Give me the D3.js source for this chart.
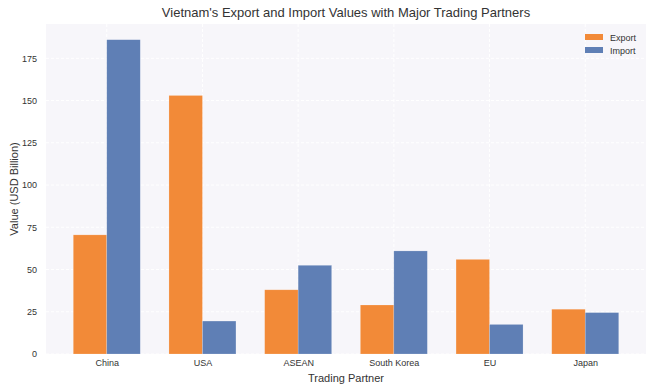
<!DOCTYPE html>
<html>
<head>
<meta charset="utf-8">
<script src="https://cdn.jsdelivr.net/npm/d3@7"></script>
<style>
  body { margin: 0; background: #fff; }
  svg { font-family: "Liberation Sans", Arial, sans-serif; }
</style>
</head>
<body>
<div id="chart"></div>
<script>
// data
var partners = ["China", "USA", "ASEAN", "South Korea", "EU", "Japan"];
var exportValues = [70.5, 153, 38, 29, 56, 26.5];
var importValues = [186, 19.5, 52.5, 61, 17.5, 24.5];
var yTicks = [0, 25, 50, 75, 100, 125, 150, 175];
var seriesNames = ["Export", "Import"];
var seriesColors = ["#f28a38", "#5f7fb5"];

var width = 655, height = 392;
var margin = {top: 24, right: 9, bottom: 38, left: 46};
var pw = width - margin.left - margin.right,
    ph = height - margin.top - margin.bottom;

var svg = d3.select("#chart").append("svg")
    .attr("width", width)
    .attr("height", height);

var g = svg.append("g")
    .attr("transform", "translate(" + margin.left + "," + margin.top + ")");

// x in category units, like matplotlib: bars span -0.35..n-1+0.35, plus 5% margin
var n = partners.length, bw = 0.35;
var lo = -bw, hi = n - 1 + bw, pad = (hi - lo) * 0.05;
var x = d3.scaleLinear().domain([lo - pad, hi + pad]).range([0, pw]);

var ymax = d3.max(exportValues.concat(importValues)) * 1.05;
var y = d3.scaleLinear().domain([0, ymax]).range([ph, 0]);

g.append("rect")
    .attr("width", pw).attr("height", ph)
    .attr("fill", "#f7f6fa");

// grid
g.append("g").selectAll("line").data(yTicks).enter().append("line")
    .attr("x1", 0).attr("x2", pw)
    .attr("y1", function(d) { return y(d); }).attr("y2", function(d) { return y(d); })
    .attr("stroke", "#ffffff").attr("stroke-width", 1)
    .attr("stroke-dasharray", "3,2");

g.append("g").selectAll("line").data(partners).enter().append("line")
    .attr("x1", function(d, i) { return x(i); }).attr("x2", function(d, i) { return x(i); })
    .attr("y1", 0).attr("y2", ph)
    .attr("stroke", "#ffffff").attr("stroke-width", 1)
    .attr("stroke-dasharray", "3,2");

// bars
var series = [exportValues, importValues];
series.forEach(function(vals, s) {
    g.append("g").selectAll("rect").data(vals).enter().append("rect")
        .attr("x", function(d, i) { return x(i + (s - 1) * bw); })
        .attr("width", x(bw) - x(0))
        .attr("y", function(d) { return y(d); })
        .attr("height", function(d) { return ph - y(d); })
        .attr("fill", seriesColors[s])
        .attr("stroke", "#ffffff").attr("stroke-opacity", 0.3).attr("stroke-width", 0.6);
});

// axes
var yAxis = d3.axisLeft(y).tickValues(yTicks).tickSize(0).tickPadding(9);
g.append("g").call(yAxis)
    .call(function(a) { a.select(".domain").remove(); })
    .selectAll("text").attr("font-size", 9).attr("fill", "#333")
    .attr("font-family", "Liberation Sans, Arial, sans-serif");

var xAxis = d3.axisBottom(x).tickValues(d3.range(n))
    .tickFormat(function(i) { return partners[i]; }).tickSize(0).tickPadding(6);
g.append("g").attr("transform", "translate(0," + ph + ")").call(xAxis)
    .call(function(a) { a.select(".domain").remove(); })
    .selectAll("text").attr("font-size", 9).attr("fill", "#333")
    .attr("font-family", "Liberation Sans, Arial, sans-serif");

// labels
svg.append("text")
    .attr("x", margin.left + pw / 2).attr("y", 17)
    .attr("text-anchor", "middle").attr("font-size", 13).attr("fill", "#333")
    .text("Vietnam's Export and Import Values with Major Trading Partners");

svg.append("text")
    .attr("x", margin.left + pw / 2).attr("y", 382)
    .attr("text-anchor", "middle").attr("font-size", 11).attr("fill", "#333")
    .text("Trading Partner");

svg.append("text")
    .attr("transform", "translate(18," + (margin.top + ph / 2) + ") rotate(-90)")
    .attr("text-anchor", "middle").attr("font-size", 11).attr("fill", "#333")
    .text("Value (USD Billion)");

// legend
var legend = g.append("g").attr("transform", "translate(" + (pw - 61) + ",10)");
seriesNames.forEach(function(name, s) {
    var row = legend.append("g").attr("transform", "translate(0," + (s * 13) + ")");
    row.append("rect").attr("width", 18).attr("height", 6).attr("y", 0)
        .attr("fill", seriesColors[s]);
    row.append("text").attr("x", 25).attr("y", 6.5)
        .attr("font-size", 9).attr("fill", "#333").text(name);
});
</script>
</body>
</html>
